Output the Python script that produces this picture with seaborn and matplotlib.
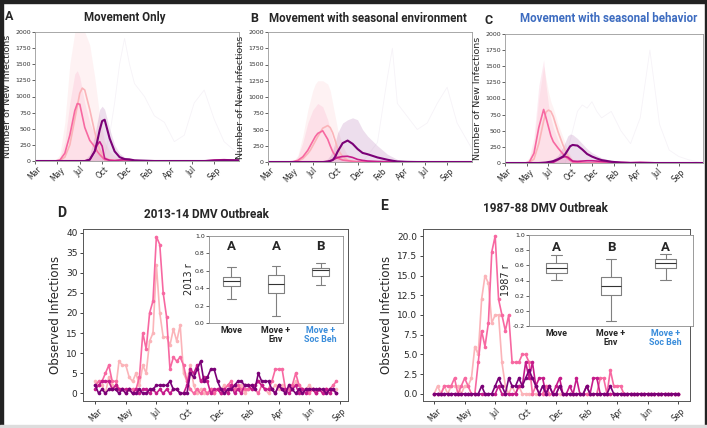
import pandas as pd
import matplotlib
matplotlib.use('Agg')
import matplotlib.pyplot as plt
import seaborn as sns
import numpy as np
from matplotlib.patches import Rectangle

sns.set_style("ticks")
plt.rcParams['font.family'] = ['DejaVu Sans']

# RdPu-like palette for the four populations
pop_colors = ["#fbb4b9", "#f768a1", "#c51b8a", "#7a0177"]
blue_title = "#3d6cc0"
blue_tick = "#3a8ddb"

# ---- top row: simulated new infections (weeks since March) ----
weeks_top = [0, 4, 8, 10, 12, 14, 16, 17, 18, 19, 20, 22, 24, 25, 26, 27, 28,
             30, 32, 34, 36, 38, 40, 44, 48, 50, 52, 56, 60, 64, 68, 72, 76, 82]
top_ticks = [0, 9, 18, 27, 36, 45, 54, 63, 72]
top_months = ["Mar", "May", "Jul", "Oct", "Dec", "Feb", "Apr", "Jul", "Sep"]

# A: movement only
a_light = [0,0,0,5,60,250,650,850,1050,1130,1100,800,450,300,180,100,50,20,10,5,0,0,0,0,0,0,0,0,0,0,0,0,0,0]
a_pink = [0,0,0,15,120,400,780,890,880,700,520,320,220,150,100,60,20,10,5,3,0,0,0,0,0,0,0,0,0,0,0,0,0,0]
a_mag = [0,0,0,0,0,0,0,0,0,0,0,20,150,250,300,230,40,10,5,15,20,15,5,0,0,0,0,0,0,0,0,15,20,10]
a_pur = [0,0,0,0,0,0,0,0,0,0,0,20,150,300,480,620,640,350,150,60,30,25,10,5,0,0,0,0,0,0,0,5,10,10]
a_env_light = [0,0,0,100,600,1500,2000,2000,2000,2000,2000,1800,1300,1000,700,500,300,150,80,40,20,0,0,0,0,0,0,0,0,0,0,0,0,0]
a_env_pink = [0,0,0,50,300,900,1350,1400,1300,1100,900,600,400,300,200,150,80,30,10,0,0,0,0,0,0,0,0,0,0,0,0,0,0,0]
a_env_pur = [0,0,0,0,0,0,0,0,0,0,20,100,400,600,800,850,800,500,250,120,60,40,20,10,0,0,0,0,0,0,0,10,20,10]
a_outl = [0,0,0,0,0,0,0,0,0,0,0,0,0,0,0,0,100,400,900,1500,1900,1500,1200,1000,700,650,600,300,400,900,1100,650,300,100]

# B: movement with seasonal environment
b_light = [0,0,0,0,15,50,130,180,250,320,390,520,560,530,450,330,200,80,30,10,5,0,0,0,0,0,0,0,0,0,0,0,0,0]
b_pink = [0,0,0,5,25,80,180,250,320,390,440,480,350,250,160,100,60,30,20,10,5,0,0,0,0,0,0,0,0,0,0,0,0,0]
b_mag = [0,0,0,0,0,0,0,0,0,0,0,0,10,20,30,50,70,85,88,70,40,25,15,8,5,3,0,0,0,0,0,0,0,0]
b_pur = [0,0,0,0,0,0,0,0,0,0,0,0,5,15,30,80,160,290,330,280,200,140,120,70,35,20,8,2,0,0,0,0,0,0]
b_env_light = [0,0,0,0,100,400,800,950,1100,1200,1250,1250,1200,1100,900,700,500,250,100,50,0,0,0,0,0,0,0,0,0,0,0,0,0,0]
b_env_pink = [0,0,0,0,80,300,600,700,800,850,900,850,650,500,350,250,150,60,30,0,0,0,0,0,0,0,0,0,0,0,0,0,0,0]
b_env_pur = [0,0,0,0,0,0,0,0,0,0,0,0,50,100,180,300,450,600,650,680,650,500,400,250,120,80,40,10,0,0,0,0,0,0]
b_outl = [0,0,0,0,0,0,0,0,0,0,0,0,0,0,0,0,0,0,0,0,0,0,100,300,1300,1750,900,700,500,600,900,1150,600,200]

# C: movement with seasonal behavior
c_light = [0,0,0,5,60,300,650,790,820,800,720,480,280,190,120,70,30,10,0,0,0,0,0,0,0,0,0,0,0,0,0,0,0,0]
c_pink = [0,0,0,10,150,550,830,700,560,420,330,230,140,100,70,40,15,5,0,0,0,0,0,0,0,0,0,0,0,0,0,0,0,0]
c_mag = [0,0,0,0,0,0,0,0,0,0,10,50,90,100,90,60,30,25,30,35,35,30,25,15,10,8,5,10,5,0,0,0,0,0]
c_pur = [0,0,0,0,0,0,5,8,15,20,30,60,100,140,200,260,280,270,210,140,100,70,45,20,5,2,0,0,0,0,0,0,0,0]
c_env_light = [0,0,0,50,300,1000,1500,1300,1100,950,850,600,400,300,200,120,60,20,0,0,0,0,0,0,0,0,0,0,0,0,0,0,0,0]
c_env_pink = [0,0,0,80,400,1200,1600,1200,900,700,550,350,200,150,100,60,30,0,0,0,0,0,0,0,0,0,0,0,0,0,0,0,0,0]
c_env_pur = [0,0,0,0,0,0,0,0,0,0,60,120,250,330,420,450,440,380,300,220,160,120,80,40,15,5,0,0,0,0,0,0,0,0]
c_outl = [0,0,0,0,0,0,0,0,0,0,0,0,0,0,200,350,500,800,900,850,950,800,700,800,500,400,300,700,1750,600,200,100,50,0]

# ---- bottom row: observed weekly infections ----
obs_ticks = [0, 9, 18, 27, 36, 45, 54, 63, 72]
obs_months = ["Mar", "May", "Jul", "Oct", "Dec", "Feb", "Apr", "Jun", "Sep"]

d_light = [3,2,2,0,4,2,1,8,7,7,4,3,5,2,7,5,13,15,32,20,14,14,12,16,13,17,5,3,7,2,0,1,0,0,1,0,
           1,1,2,0,1,2,1,2,0,1,1,2,3,2,1,0,1,2,1,2,0,2,1,3,2,1,1,2,1,0,1,1,1,0,1,1]
d_pink = [2,3,3,5,7,3,3,1,1,0,1,1,1,4,15,11,20,23,39,37,25,19,6,9,8,9,7,3,1,0,1,0,1,0,1,0,
          1,0,1,2,3,1,2,1,1,1,2,1,0,2,1,1,3,6,6,6,1,1,2,5,2,1,1,0,1,0,1,0,1,1,2,3]
d_mag = [1,2,3,3,3,1,2,1,1,1,1,0,1,0,1,1,0,1,0,1,0,1,0,1,1,0,0,2,6,5,7,3,4,3,0,1,
         1,0,1,0,2,0,1,0,2,2,1,2,3,2,1,1,1,0,2,1,1,0,1,2,0,1,0,1,1,0,1,0,1,0,1,0]
d_pur = [2,0,1,0,1,1,1,0,1,0,1,0,0,1,0,0,1,1,2,2,2,2,3,1,1,0,0,0,5,4,6,8,3,4,6,6,
         3,1,0,1,1,2,3,3,2,2,2,1,5,3,3,3,1,0,2,1,0,2,1,0,1,0,1,1,1,1,1,1,0,1,1,0]

e_light = [0,1,0,1,0,1,1,1,0,1,1,2,6,5,12,15,14,9,10,10,4,1,0,1,0,1,0,0,0,0,0,0,0,0,0,0,0,
           0,0,0,0,0,0,0,0,0,0,0,0,0,0,0,0,0,0,0,0,0,0,0,0,0,0,0,0,0,0,0,0,0,0,0,0]
e_pink = [0,0,0,1,1,1,2,0,1,2,1,0,0,4,8,6,9,18,20,12,10,8,10,4,4,4,5,5,4,0,1,0,0,1,0,0,0,
          1,0,0,0,0,0,0,0,0,0,0,0,2,2,0,3,1,1,1,0,0,0,0,0,0,0,0,0,0,0,0,0,0,0,0,0]
e_mag = [0,0,0,0,0,0,0,0,0,0,0,0,0,0,0,0,0,0,0,1,0,0,0,0,0,1,1,4,2,4,1,2,2,0,1,0,1,
         2,0,0,1,0,2,0,0,1,0,2,2,0,0,0,0,0,0,0,0,0,0,0,0,0,0,0,0,0,0,0,0,0,0,0,0]
e_pur = [0,0,0,0,0,0,0,0,0,0,0,0,0,0,1,0,0,0,1,2,1,0,2,1,1,2,1,2,3,2,1,0,1,0,1,0,0,
         1,0,0,0,0,0,0,0,1,0,0,0,0,0,0,1,0,0,0,0,0,0,0,0,0,0,0,0,0,0,0,0,0,0,0,0]

# ---- inset box plots: whisker low, q1, median, q3, whisker high ----
box_groups = ["Move", "Move +\nEnv", "Move +\nSoc Beh"]
d_move = [0.28, 0.42, 0.48, 0.53, 0.64]
d_env = [0.08, 0.35, 0.45, 0.55, 0.65]
d_soc = [0.44, 0.54, 0.61, 0.63, 0.69]
e_move = [0.41, 0.50, 0.57, 0.63, 0.73]
e_env = [-0.13, 0.21, 0.33, 0.45, 0.68]
e_soc = [0.41, 0.57, 0.63, 0.68, 0.75]
d_letters = ["A", "A", "B"]
e_letters = ["A", "B", "A"]

W, H = 707, 428
fig = plt.figure(figsize=(W / 100, H / 100), dpi=100)


def px_axes(x0, y0, x1, y1):
    return fig.add_axes([x0 / W, 1 - y1 / H, (x1 - x0) / W, (y1 - y0) / H])


def ftext(x, y, s, **kw):
    fig.text(x / W, 1 - y / H, s, ha="center", va="center", **kw)


def top_panel(ax, means, envs, outl):
    ax.plot(weeks_top, outl, color="#b59ac4", alpha=0.12, lw=0.6)
    for env, c, a in zip(envs, [pop_colors[0], pop_colors[1], pop_colors[3]], [0.17, 0.13, 0.13]):
        ax.fill_between(weeks_top, 0, env, color=c, alpha=a, lw=0)
    df = pd.DataFrame({"week": weeks_top * 4,
                       "cases": sum(means, []),
                       "pop": sum([[i] * len(weeks_top) for i in range(4)], [])})
    sns.lineplot(data=df, x="week", y="cases", hue="pop", palette=pop_colors,
                 linewidth=1.2, legend=False, ax=ax)
    ax.lines[-1].set_linewidth(1.5)
    ax.set_xlim(0, 82)
    ax.set_ylim(0, 2000)
    ax.set_yticks(range(0, 2001, 250))
    ax.set_xticks(top_ticks)
    ax.set_xticklabels(top_months, rotation=45, fontsize=5.5)
    ax.tick_params(axis="y", labelsize=4.5, length=2, width=0.5, pad=1, labelcolor="#333333")
    ax.tick_params(axis="x", length=2, width=0.5, pad=1)
    ax.set_xlabel("")
    ax.set_ylabel("Number of New Infections", fontsize=6.8, labelpad=2)
    for sp in ax.spines.values():
        sp.set_visible(True)
        sp.set_color("#9a9a9a")
        sp.set_linewidth(0.6)


axA = px_axes(35, 32, 239, 161)
top_panel(axA, [a_light, a_pink, a_mag, a_pur], [a_env_light, a_env_pink, a_env_pur], a_outl)
axB = px_axes(268, 32, 472, 162)
top_panel(axB, [b_light, b_pink, b_mag, b_pur], [b_env_light, b_env_pink, b_env_pur], b_outl)
axC = px_axes(505, 34, 703, 163)
top_panel(axC, [c_light, c_pink, c_mag, c_pur], [c_env_light, c_env_pink, c_env_pur], c_outl)


def obs_panel(ax, series, ylim, yticks, fmt):
    n = len(series[0])
    df = pd.DataFrame({"week": list(range(n)) * 4,
                       "obs": sum(series, []),
                       "pop": sum([[i] * n for i in range(4)], [])})
    sns.lineplot(data=df, x="week", y="obs", hue="pop", palette=pop_colors,
                 marker="o", markersize=2.6, markeredgewidth=0, linewidth=1.2,
                 legend=False, ax=ax)
    ax.set_ylim(*ylim)
    ax.set_yticks(yticks)
    ax.set_yticklabels([fmt.format(v) for v in yticks])
    ax.set_xticks(obs_ticks)
    ax.set_xticklabels(obs_months, rotation=45, fontsize=5.5)
    ax.tick_params(axis="y", labelsize=6.5, length=2.5, width=0.6, pad=1.5)
    ax.tick_params(axis="x", length=2.5, width=0.6, pad=1.5)
    ax.set_xlabel("")
    ax.set_ylabel("Observed Infections", fontsize=8.5, labelpad=3)
    for sp in ax.spines.values():
        sp.set_visible(True)
        sp.set_color("#555555")
        sp.set_linewidth(0.7)


def inset_box(ax, groups, letters, ylim, yticks, ylabel, letter_y):
    vals = groups[0] + groups[1] + groups[2]
    labs = sum([[g] * 5 for g in box_groups], [])
    sns.boxplot(x=labs, y=vals, whis=(0, 100), fill=False, color="0.5", width=0.38,
                linewidth=0.8, medianprops={"color": "0.2"}, ax=ax)
    ax.set_ylim(*ylim)
    ax.set_yticks(yticks)
    ax.set_yticklabels(["{:.1f}".format(v) for v in yticks])
    ax.tick_params(axis="y", labelsize=4.5, length=2, width=0.5, pad=1)
    ax.tick_params(axis="x", length=0, pad=2)
    ax.set_xticks(range(3))
    ax.set_xticklabels(box_groups, fontsize=6.4, fontweight="bold", family="Roboto",
                       linespacing=1.1)
    ax.get_xticklabels()[2].set_color(blue_tick)
    ax.set_ylabel(ylabel, fontsize=7, labelpad=1)
    for i, l in enumerate(letters):
        ax.text(i, letter_y, l, ha="center", va="center", fontsize=9.5, fontweight="bold",
                family="Roboto")
    for sp in ax.spines.values():
        sp.set_visible(True)
        sp.set_color("#8a8a8a")
        sp.set_linewidth(0.6)


axD = px_axes(83, 229, 348, 401)
obs_panel(axD, [d_light, d_pink, d_mag, d_pur], (-1.9, 40.9), list(range(0, 41, 5)), "{:d}")
axD.set_xlim(-3.6, 74.4)
axDi = px_axes(209, 236, 343, 323)
inset_box(axDi, [d_move, d_env, d_soc], d_letters, (0, 1.0),
          [0.0, 0.2, 0.4, 0.6, 0.8, 1.0], "2013 r", 0.875)

axE = px_axes(423, 229, 690, 401)
obs_panel(axE, [e_light, e_pink, e_mag, e_pur], (-0.9, 20.9),
          [0, 2.5, 5, 7.5, 10, 12.5, 15, 17.5, 20], "{:.1f}")
axE.set_xlim(-3.3, 75.5)
axEi = px_axes(529, 235, 693, 326)
inset_box(axEi, [e_move, e_env, e_soc], e_letters, (-0.2, 1.0),
          [-0.2, 0.0, 0.2, 0.4, 0.6, 0.8, 1.0], "1987 r", 0.84)

# titles and panel letters
tkw = dict(fontweight="bold", family="Roboto")
ftext(125, 17, "Movement Only", fontsize=8.3, **tkw)
ftext(368, 19, "Movement with seasonal environment", fontsize=8.3, **tkw)
ftext(609, 19, "Movement with seasonal behavior", fontsize=8.3, color=blue_title, **tkw)
ftext(206, 215, "2013-14 DMV Outbreak", fontsize=8.5, **tkw)
ftext(545, 209, "1987-88 DMV Outbreak", fontsize=8.5, **tkw)
ftext(9, 17, "A", fontsize=9, **tkw)
ftext(254, 18, "B", fontsize=9, **tkw)
ftext(489, 21, "C", fontsize=9, **tkw)
ftext(62, 213, "D", fontsize=10, **tkw)
ftext(384, 206, "E", fontsize=10, **tkw)

# dark frame around the figure
for (x, y, w, h, c) in [(0, 0, 3, H, "#222222"), (0, 0, W, 3, "#222222"),
                        (W - 2, 0, 2, H, "#222222"), (0, H - 3, W, 3, "#dddddd")]:
    fig.patches.append(Rectangle((x / W, 1 - (y + h) / H), w / W, h / H,
                                 transform=fig.transFigure, color=c, zorder=10))

fig.savefig("out.png", dpi=100)
